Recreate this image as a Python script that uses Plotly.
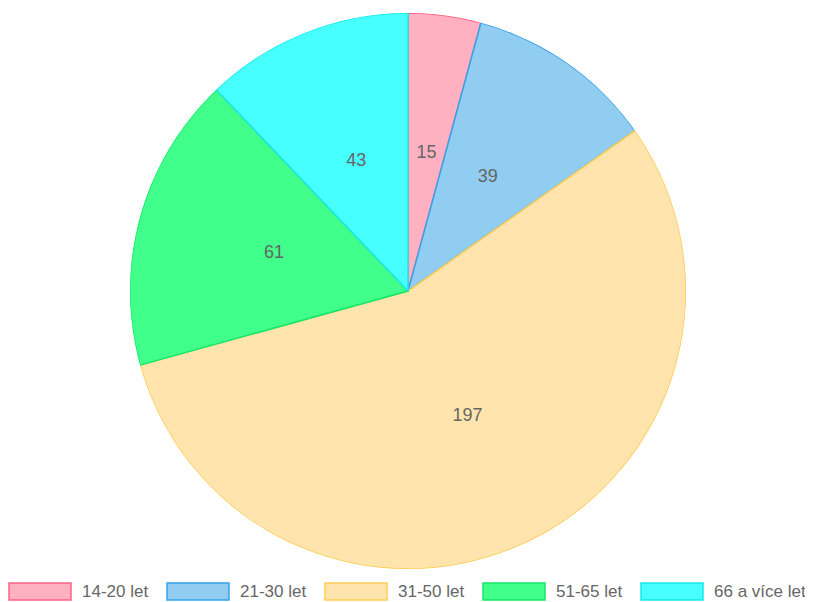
"""
Koláčový graf - věkové skupiny
"""

import plotly.graph_objects as go

# Data
kategorie = ['14-20 let', '21-30 let', '31-50 let', '51-65 let', '66 a více let']
hodnoty = [15, 39, 197, 61, 43]

# Barvy (výplň a okraj)
barvy_vypln = ['#FFB1C1', '#90CDF0', '#FFE4AE', '#40FF8A', '#47FFFF']
barvy_okraj = ['#FF6384', '#36A2EB', '#FFCD56', '#14E86A', '#1AE8E8']

W, H = 813, 602
PISMO = 'Liberation Sans, Arial'

# Úhly výsečí (ve stupních, po směru hodinových ručiček od 12 h)
celkem = sum(hodnoty)
sirky = [v / celkem * 360 for v in hodnoty]
stredy = []
kum = 0
for s in sirky:
    stredy.append(kum + s / 2)
    kum += s

fig = go.Figure()

# Výseče jako polární sloupce (stejný vzhled jako Chart.js pie)
fig.add_trace(go.Barpolar(
    r=[1] * len(hodnoty),
    theta=stredy,
    width=sirky,
    marker=dict(color=barvy_vypln, line=dict(color=barvy_okraj, width=1.5)),
    customdata=hodnoty,
    text=kategorie,
    hovertemplate='%{text}: %{customdata}<extra></extra>',
    showlegend=False,
))

# Popisky hodnot uprostřed poloměru
fig.add_trace(go.Scatterpolar(
    r=[0.5] * len(hodnoty),
    theta=stredy,
    mode='text',
    text=[str(v) for v in hodnoty],
    textposition='middle center',
    textfont=dict(family=PISMO, size=18, color='#666666'),
    hoverinfo='skip',
    showlegend=False,
))

# Vlastní legenda pod grafem (obdélníky jako v Chart.js)
krok = 158
for i, (nazev, vypln, okraj) in enumerate(zip(kategorie, barvy_vypln, barvy_okraj)):
    x0 = i * krok
    fig.add_shape(
        type='rect', xref='paper', yref='paper',
        x0=(x0 + 1) / W, x1=(x0 + 63) / W,
        y0=(H - 592) / H, y1=(H - 575) / H,
        fillcolor=vypln, line=dict(color=okraj, width=1.5),
    )
    fig.add_annotation(
        x=(x0 + 72) / W, y=(H - 583) / H, xref='paper', yref='paper',
        text=nazev, showarrow=False, xanchor='left', yanchor='middle',
        font=dict(family=PISMO, size=17, color='#666666'),
    )

fig.update_layout(
    width=W,
    height=H,
    margin=dict(l=0, r=0, t=0, b=0),
    paper_bgcolor='white',
    plot_bgcolor='white',
    polar=dict(
        domain=dict(x=[122 / W, 678 / W], y=[41 / H, 597 / H]),
        bgcolor='rgba(0,0,0,0)',
        hole=0,
        bargap=0,
        radialaxis=dict(visible=False, range=[0, 1]),
        angularaxis=dict(visible=False, rotation=90, direction='clockwise'),
    ),
)

fig.write_html("out.html")
